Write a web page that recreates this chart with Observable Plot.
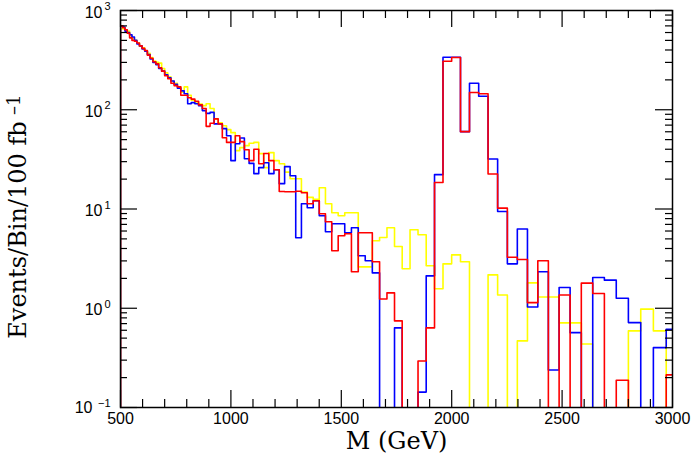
<!DOCTYPE html>
<html><head><meta charset="utf-8">
<script src="https://cdn.jsdelivr.net/npm/d3@7"></script>
<script src="https://cdn.jsdelivr.net/npm/@observablehq/plot@0.6"></script>
<style>body{margin:0;background:#fff} svg{display:block}</style>
</head><body><div id="chart"></div>
<script>
// Bin lower edges (GeV), last value is the upper edge of the final bin
const binEdges = [
  500, 510, 520.2, 530.6, 541.2, 552, 563.1, 574.3, 585.8, 597.5,
  609.5, 621.7, 634.1, 646.8, 659.7, 672.9, 686.4, 700.1, 714.1, 728.4,
  743, 757.8, 773, 788.5, 804.2, 820.3, 836.7, 853.5, 870.5, 887.9,
  905.7, 923.8, 942.3, 961.1, 980.3, 999.9, 1019.9, 1040.3, 1061.1, 1082.4,
  1104, 1126.1, 1148.6, 1171.6, 1195, 1218.9, 1243.3, 1268.2, 1293.6, 1319.4,
  1345.8, 1372.7, 1400.2, 1428.2, 1456.8, 1485.9, 1515.6, 1545.9, 1576.8, 1608.4,
  1640.5, 1673.4, 1706.8, 1741, 1775.8, 1811.3, 1847.5, 1884.5, 1922.2, 1960.6,
  1999.8, 2039.8, 2080.6, 2122.2, 2164.7, 2208, 2252.1, 2297.2, 2343.1, 2390,
  2437.8, 2486.5, 2536.3, 2587, 2638.7, 2691.5, 2745.3, 2800.2, 2856.2, 2913.4,
  2971.6, 3031.1
];

const yellowCounts = [
  660, 650, 630, 620, 560, 530, 500, 470, 440, 420,
  390, 370, 335, 310, 300, 295, 260, 235, 215, 195,
  185, 170, 150, 170, 140, 125, 120, 114, 110, 115,
  103, 81, 74, 69, 63, 58.8, 38.7, 41.5, 43.5, 45.9,
  46.9, 36.1, 26.1, 37, 30.7, 28.6, 23.5, 20.2, 20.2, 14.8,
  13.1, 12.5, 16.4, 11.3, 9.17, 8.55, 9.17, 9.17, 2.61, 2.61,
  4.78, 5.16, 6.47, 4.19, 2.5, 6.17, 5.5, 2.68, 1.57, 2.8,
  3.45, 2.94, 0, 0, 2.17, 1.36, 0, 0.469, 1.8, 1.3,
  1.3, 0.712, 0.712, 0.437, 0, 0, 0, 0.591, 0.98, 0.591,
  0
];

const blueCounts = [
  700, 680, 620, 600, 570, 540, 500, 460, 440, 410,
  390, 360, 325, 300, 285, 260, 245, 225, 210, 195,
  180, 165, 155, 145, 115, 118, 115, 110, 98, 92,
  94, 72, 72, 64.5, 54.8, 30.7, 45.5, 52, 32.1, 28.8,
  22.7, 26.1, 29.2, 22.7, 24.9, 18, 26.7, 21.6, 5.13, 11.3,
  10.3, 12.1, 8.55, 5.89, 7.1, 7.1, 5.76, 6.47, 3.38, 3.01,
  2.27, 0, 0, 0.634, 0, 0, 0.143, 2.12, 22.2, 338,
  338, 60.2, 185, 137, 31.9, 9.45, 2.8, 6.28, 1.03, 2.33,
  0.239, 1.62, 0.568, 0, 2.04, 1.92, 1.26, 0.717, 0, 0.401,
  0.615
];

const redCounts = [
  700, 670, 640, 590, 530, 500, 490, 470, 440, 415,
  395, 355, 330, 305, 290, 265, 245, 220, 205, 185,
  175, 170, 140, 140, 132, 128, 122, 112, 103, 68,
  73, 81, 72, 52.3, 46.9, 46.9, 54.8, 47.7, 39.6, 30.7,
  40, 28.6, 36.3, 30.7, 24.9, 15, 14.9, 14.9, 15.1, 14.6,
  11.3, 12.1, 8.96, 7.44, 3.79, 5.37, 5.63, 2.33, 5.76, 5.76,
  2.94, 1.24, 1.43, 0.746, 0, 0, 0.294, 0.634, 18.5, 308,
  336, 60.2, 149, 145, 22.5, 10.2, 3.26, 3.1, 1.14, 3.01,
  0, 1.36, 0, 1.79, 1.41, 0, 0.188, 0, 0, 0,
  0.213
];

const xTicks = [500, 1000, 1500, 2000, 2500, 3000];
const yTicks = [0.1, 1, 10, 100, 1000];
const yExponents = ["\u22121", "0", "1", "2", "3"];

const W = 693, H = 463;
const mL = 120, mR = 21, mT = 10, mB = 56;
const plotW = W - mL - mR, plotH = H - mT - mB;
const floorValue = 1e-3;

const xMinor = d3.range(600, 3000, 100).filter(d => d % 500 !== 0);
const yMinor = [];
[0.1, 1, 10, 100].forEach(dec => { for (let k = 2; k <= 9; k++) yMinor.push(+(dec * k).toPrecision(3)); });

function stepPoints(counts) {
  const v = c => (c > 0 ? c : floorValue);
  const pts = [{M: binEdges[0], n: floorValue}];
  counts.forEach((c, i) => pts.push({M: binEdges[i], n: v(c)}));
  pts.push({M: binEdges[counts.length], n: v(counts[counts.length - 1])});
  return pts;
}

const lineOpts = {x: "M", y: "n", curve: "step-after", strokeWidth: 1.6, clip: true};
const tickStyle = {stroke: "black", strokeWidth: 1.2};
const serif = "DejaVu Serif";
const sans = "Liberation Sans";

const chart = Plot.plot({
  width: W, height: H,
  marginLeft: mL, marginRight: mR, marginTop: mT, marginBottom: mB,
  x: {domain: [500, 3000], axis: null},
  y: {type: "log", domain: [0.1, 1000], axis: null},
  style: {background: "white"},
  marks: [
    Plot.line(stepPoints(yellowCounts), {...lineOpts, stroke: "#ffff00"}),
    Plot.line(stepPoints(blueCounts), {...lineOpts, stroke: "#0000ff"}),
    Plot.line(stepPoints(redCounts), {...lineOpts, stroke: "#ff0000"}),
    Plot.frame({stroke: "black", strokeWidth: 1.5}),
    // x ticks (bottom & top, inward)
    Plot.tickX(xTicks, {x: d => d, insetTop: plotH - 17, ...tickStyle}),
    Plot.tickX(xTicks, {x: d => d, insetBottom: plotH - 17, ...tickStyle}),
    Plot.tickX(xMinor, {x: d => d, insetTop: plotH - 8, ...tickStyle}),
    Plot.tickX(xMinor, {x: d => d, insetBottom: plotH - 8, ...tickStyle}),
    // y ticks (left & right, inward)
    Plot.tickY(yTicks, {y: d => d, insetRight: plotW - 17, ...tickStyle}),
    Plot.tickY(yTicks, {y: d => d, insetLeft: plotW - 17, ...tickStyle}),
    Plot.tickY(yMinor, {y: d => d, insetRight: plotW - 7, ...tickStyle}),
    Plot.tickY(yMinor, {y: d => d, insetLeft: plotW - 7, ...tickStyle}),
    // x tick labels
    Plot.text(xTicks, {x: d => d, frameAnchor: "bottom", dy: 16, text: d => String(d), fontSize: 16, fontFamily: sans}),
    // y tick labels: "10" + exponent
    Plot.text(yTicks.filter(d => d >= 1), {y: d => d, frameAnchor: "left", text: () => "10", textAnchor: "end", dx: -18, dy: 2, fontSize: 16, fontFamily: sans}),
    Plot.text(yTicks.filter(d => d < 1), {y: d => d, frameAnchor: "left", text: () => "10", textAnchor: "end", dx: -28, dy: 0, fontSize: 16, fontFamily: sans}),
    Plot.text(yTicks, {y: d => d, frameAnchor: "left", text: (d, i) => yExponents[i], textAnchor: "end", dx: -10, dy: (-4), fontSize: 11, fontFamily: sans}),
    // axis titles
    Plot.text(["M (GeV)"], {frameAnchor: "bottom", text: d => d, dy: 41, lineAnchor: "bottom", fontSize: 24, fontFamily: serif}),
    Plot.text(["Events/Bin/100 fb"], {frameAnchor: "left", text: d => d, rotate: -90, dx: -95, dy: 21, lineAnchor: "bottom", textAnchor: "middle", fontSize: 24, fontFamily: serif}),
    Plot.text(["\u20131"], {frameAnchor: "left", text: d => d, rotate: -90, dx: -101, dy: -94, lineAnchor: "bottom", textAnchor: "start", fontSize: 18, fontFamily: serif})
  ]
});
document.getElementById("chart").appendChild(chart);
</script>
</body></html>
